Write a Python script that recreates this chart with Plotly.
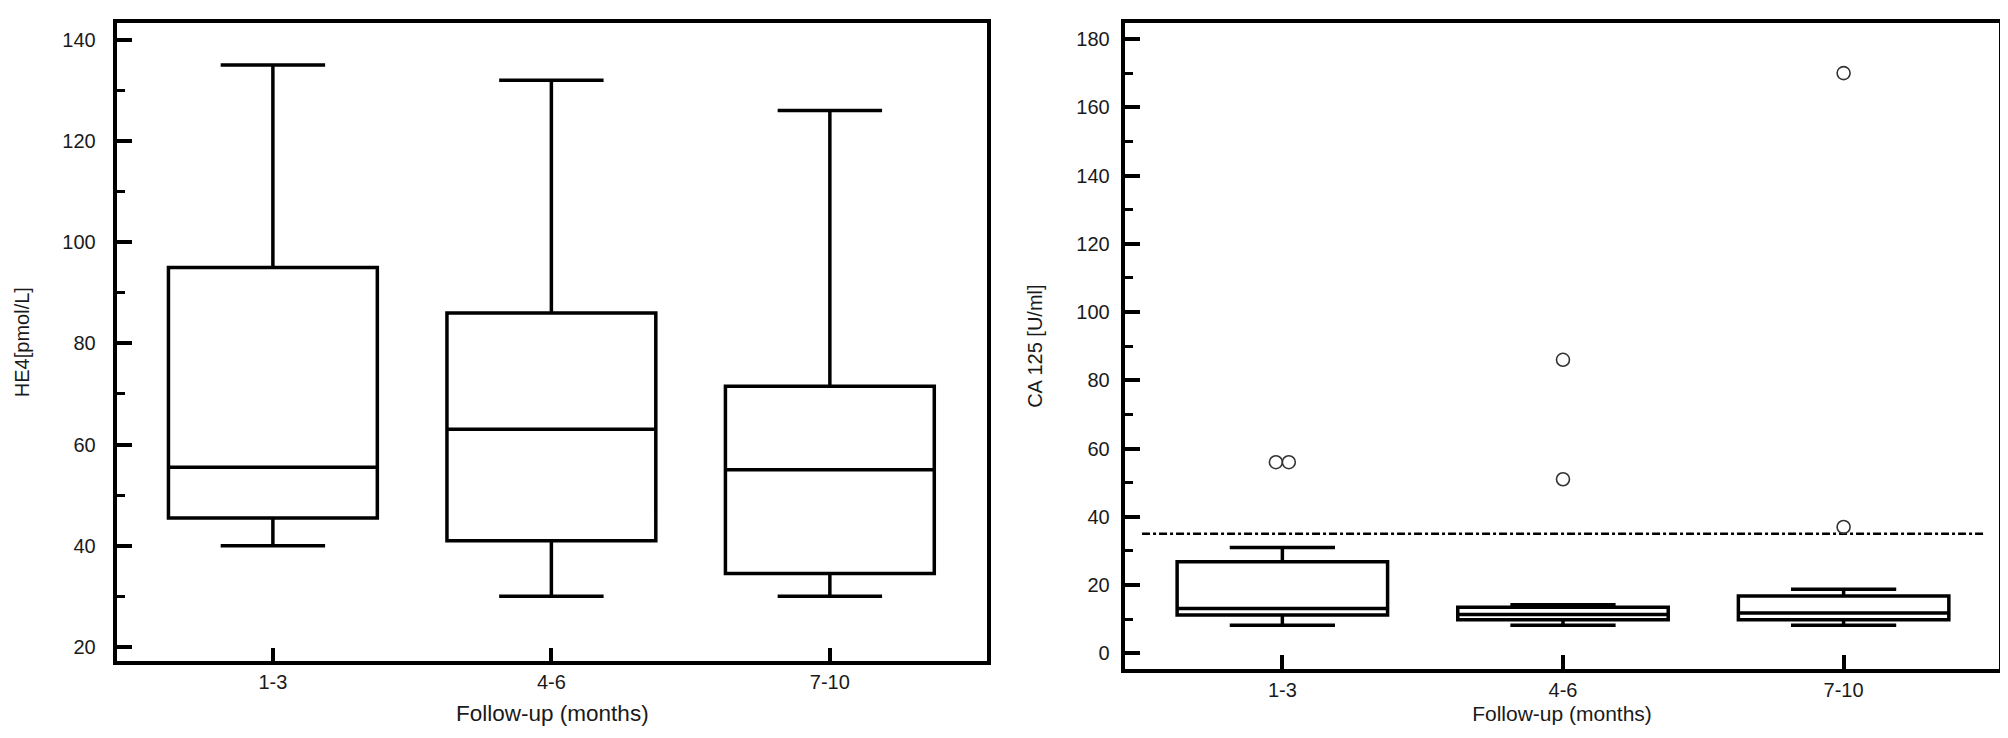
import plotly.graph_objects as go

# ---------------- data ----------------
categories = ["1-3", "4-6", "7-10"]

# HE4 [pmol/L] box statistics
he4_lower = [40, 30, 30]
he4_q1 = [45.5, 41, 34.5]
he4_median = [55.5, 63, 55]
he4_q3 = [95, 86, 71.5]
he4_upper = [135, 132, 126]

# CA 125 [U/ml] box statistics
ca_lower = [8.2, 8.2, 8.2]
ca_q1 = [11.2, 9.8, 9.8]
ca_median = [13.1, 11.4, 11.8]
ca_q3 = [26.8, 13.5, 16.8]
ca_upper = [31, 14.2, 18.8]

# CA 125 outliers
ca_out_cat = ["1-3", "1-3", "4-6", "4-6", "7-10", "7-10"]
ca_out_val = [56, 56, 86, 51, 170, 37]

ca_cutoff = 35

he4_ticks = [20, 40, 60, 80, 100, 120, 140]
ca_ticks = [0, 20, 40, 60, 80, 100, 120, 140, 160, 180]

# ---------------- figure ----------------
FONT = "Liberation Sans, Arial, sans-serif"
TXT = "#1a1a1a"
pos = list(range(len(categories)))

fig = go.Figure()

box_style = dict(width=0.75, whiskerwidth=0.5, line=dict(color="black", width=3.5),
                 fillcolor="white", boxpoints=False, showlegend=False, hoverinfo="y")

fig.add_trace(go.Box(x=pos, q1=he4_q1, median=he4_median, q3=he4_q3,
                     lowerfence=he4_lower, upperfence=he4_upper,
                     xaxis="x", yaxis="y", **box_style))

# cutoff line
fig.add_trace(go.Scatter(x=[-0.5, len(categories) - 0.5], y=[ca_cutoff, ca_cutoff],
                         mode="lines", line=dict(color="black", width=2.5, dash="8px,3px,3px,3px"),
                         showlegend=False, hoverinfo="skip", xaxis="x2", yaxis="y2"))

fig.add_trace(go.Box(x=pos, q1=ca_q1, median=ca_median, q3=ca_q3,
                     lowerfence=ca_lower, upperfence=ca_upper,
                     xaxis="x2", yaxis="y2", **box_style))

# outliers: spread coincident points slightly
groups = {}
for i, (c, v) in enumerate(zip(ca_out_cat, ca_out_val)):
    groups.setdefault((c, v), []).append(i)
ox, oy = [], []
for (c, v), idxs in groups.items():
    n = len(idxs)
    for k in range(n):
        ox.append(categories.index(c) + (k - (n - 1) / 2) * 0.046)
        oy.append(v)
fig.add_trace(go.Scatter(x=ox, y=oy, mode="markers",
                         marker=dict(symbol="circle-open", size=13, color="#333333",
                                     line=dict(width=1.6, color="#333333")),
                         showlegend=False, xaxis="x2", yaxis="y2"))

axis_common = dict(showline=True, linewidth=3.5, linecolor="black", mirror=True,
                   showgrid=False, zeroline=False, ticks="inside", tickwidth=3.5,
                   tickcolor="black", automargin=False,
                   tickfont=dict(family=FONT, size=20, color=TXT))

def xaxis_cfg(standoff, size):
    return dict(axis_common, tickmode="array", tickvals=pos, ticktext=categories, ticklen=14,
                title=dict(text="Follow-up (months)",
                           font=dict(family=FONT, size=size, color=TXT), standoff=standoff))

fig.update_layout(
    width=2008, height=738,
    margin=dict(l=0, r=0, t=0, b=0),
    paper_bgcolor="white", plot_bgcolor="white",
    font=dict(family=FONT, color=TXT),
    xaxis=dict(xaxis_cfg(14, 22.5), domain=[0.05453, 0.48765], range=[-0.558, 2.565], anchor="y"),
    yaxis=dict(axis_common, domain=[0.1145, 0.97995], range=[17.13, 143.34], anchor="x",
               tickmode="array", tickvals=he4_ticks, ticklen=15, ticklabelstandoff=14,
               minor=dict(ticks="inside", ticklen=8, tickwidth=2.5, tickcolor="black", dtick=10,
                          showgrid=False),
               title=dict(text="HE4[pmol/L]", font=dict(family=FONT, size=20, color=TXT),
                          standoff=28)),
    xaxis2=dict(xaxis_cfg(8, 21), domain=[0.55652, 0.99129], range=[-0.559, 2.552], anchor="y2"),
    yaxis2=dict(axis_common, domain=[0.10461, 0.979], range=[-4.54, 184.54], anchor="x2",
                tickmode="array", tickvals=ca_ticks, ticklen=15, ticklabelstandoff=8,
                minor=dict(ticks="inside", ticklen=8, tickwidth=2.5, tickcolor="black", dtick=10,
                           showgrid=False),
                title=dict(text="CA 125 [U/ml]", font=dict(family=FONT, size=20, color=TXT),
                           standoff=29)),
)

fig.write_html("out.html")
